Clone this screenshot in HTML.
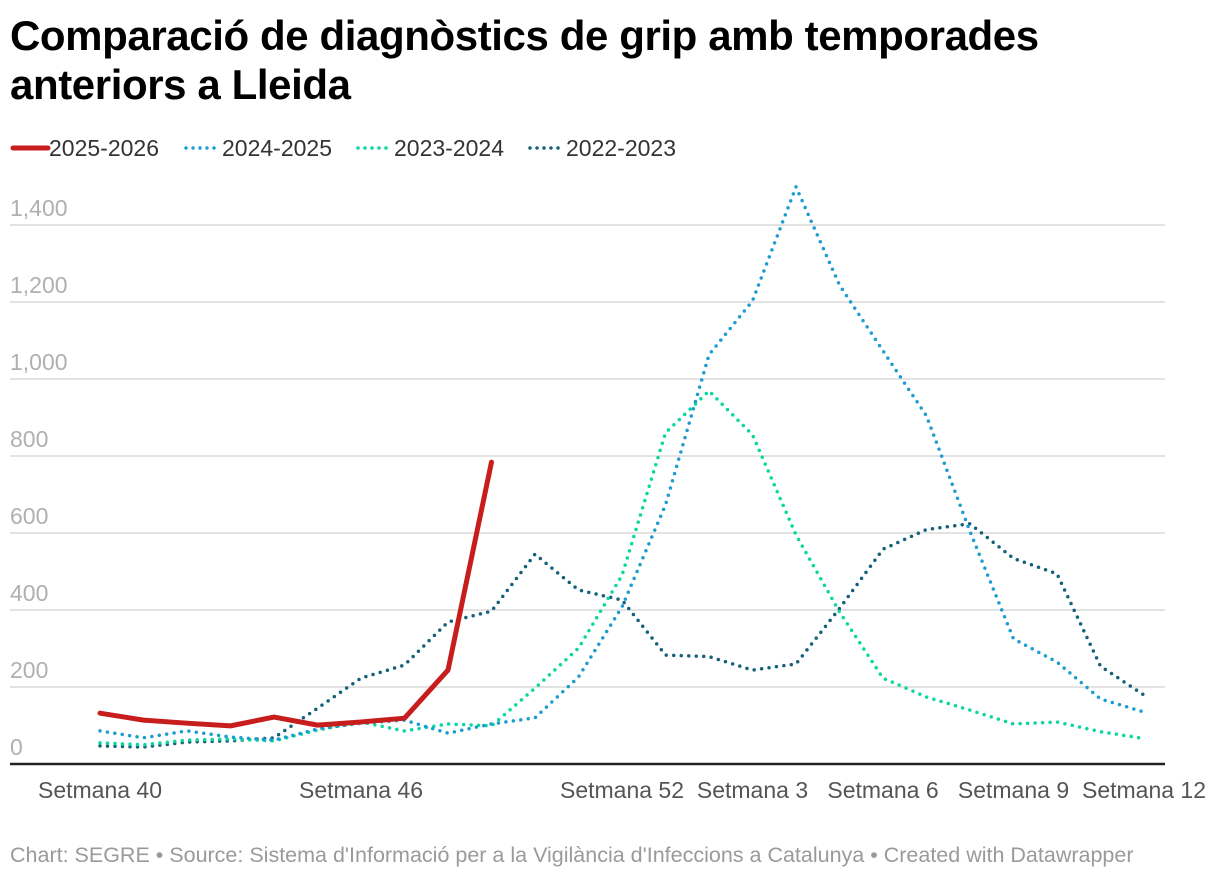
<!DOCTYPE html>
<html><head><meta charset="utf-8"><style>
body{margin:0;background:#fff;font-family:"Liberation Sans",Arial,sans-serif;}
#wrap{position:relative;width:1220px;height:880px;overflow:hidden;}
h1{position:absolute;left:10px;top:11px;margin:0;font-size:42px;line-height:49px;font-weight:bold;color:#000;letter-spacing:-0.4px;}
</style></head><body>
<div id="wrap">
<h1>Comparació de diagnòstics de grip amb temporades<br>anteriors a Lleida</h1>
<svg id="chart" width="1220" height="880" style="position:absolute;left:0;top:0"></svg>
</div>
<script>
const categories=["40","41","42","43","44","45","46","47","48","49","50","51","52","1","2","3","4","5","6","7","8","9","10","11","12"];
const s2526=[132,114,106,99,122,101,109,119,244,784];
const s2425=[86,68,86,70,62,91,106,114,80,104,120,226,408,673,1063,1203,1499,1244,1073,904,604,325,265,169,135];
const s2324=[55,50,62,65,60,88,109,86,104,99,197,301,490,860,969,855,595,395,223,174,140,104,109,84,66];
const s2223=[47,44,57,60,68,145,223,257,369,397,545,452,426,283,279,244,260,404,558,609,624,534,494,254,179];
const yTicks=[0,200,400,600,800,1000,1200,1400];
const yTickLabels=["0","200","400","600","800","1,000","1,200","1,400"];
const xTickIdx=[0,6,12,15,18,21,24];
const xTickLabels=["Setmana 40","Setmana 46","Setmana 52","Setmana 3","Setmana 6","Setmana 9","Setmana 12"];
const seriesNames=["2025-2026","2024-2025","2023-2024","2022-2023"];

const NS="http://www.w3.org/2000/svg";
const svg=document.getElementById('chart');
const X=i=>100+43.5*i;
const Y=v=>764-v*0.385;
function mk(tag,attrs,parent){const e=document.createElementNS(NS,tag);for(const k in attrs)e.setAttribute(k,attrs[k]);(parent||svg).appendChild(e);return e;}

yTicks.forEach((t,k)=>{
  if(t>0){const g=mk('line',{x1:10,x2:1165,y1:Y(t),y2:Y(t),stroke:'#e3e3e3','stroke-width':2});
  
  }
  const tx=mk('text',{x:10,y:Y(t)-9,'font-size':23,fill:'#b0b0b0'});
  tx.textContent=yTickLabels[k];
  
  
});
const ax=mk('line',{x1:10,x2:1165,y1:764,y2:764,stroke:'#222','stroke-width':2.5});


xTickIdx.forEach((i,k)=>{
  const tx=mk('text',{x:X(i),y:798,'font-size':23,fill:'#555','text-anchor':'middle'});
  tx.textContent=xTickLabels[k];
  
  
});
function line(data,color,dotted,name){
  const pts=data.map((v,i)=>X(i)+','+Y(v)).join(' ');
  const a={points:pts,fill:'none',stroke:color,'stroke-linejoin':'round','stroke-linecap':'round'};
  if(dotted){a['stroke-width']=3.5;a['stroke-dasharray']='0 7.5';}else a['stroke-width']=5;
  const p=mk('polyline',a);
  
  
}
line(s2223,'#15607a',true,'line-2022-2023');
line(s2324,'#09d7a0',true,'line-2023-2024');
line(s2425,'#1d9dcf',true,'line-2024-2025');
line(s2526,'#c71e1d',false,'line-2025-2026');

const legendX=[10,183,355,527];
const legendCol=['#c71e1d','#1d9dcf','#09d7a0','#15607a'];
seriesNames.forEach((n,k)=>{
  const a={x1:legendX[k]+3,x2:legendX[k]+38,y1:148,y2:148,stroke:legendCol[k],'stroke-linecap':'round'};
  if(k===0)a['stroke-width']=5;else{a['stroke-width']=3.5;a['stroke-dasharray']='0 7';}
  const l=mk('line',a);
  
  
  const t=mk('text',{x:legendX[k]+39,y:156,'font-size':23,fill:'#333'});
  t.textContent=n;
  
  
});
const f=mk('text',{x:10,y:862,'font-size':21.5,fill:'#9a9a9a'});
f.textContent="Chart: SEGRE • Source: Sistema d'Informació per a la Vigilància d'Infeccions a Catalunya • Created with Datawrapper";


</script>
</body></html>
